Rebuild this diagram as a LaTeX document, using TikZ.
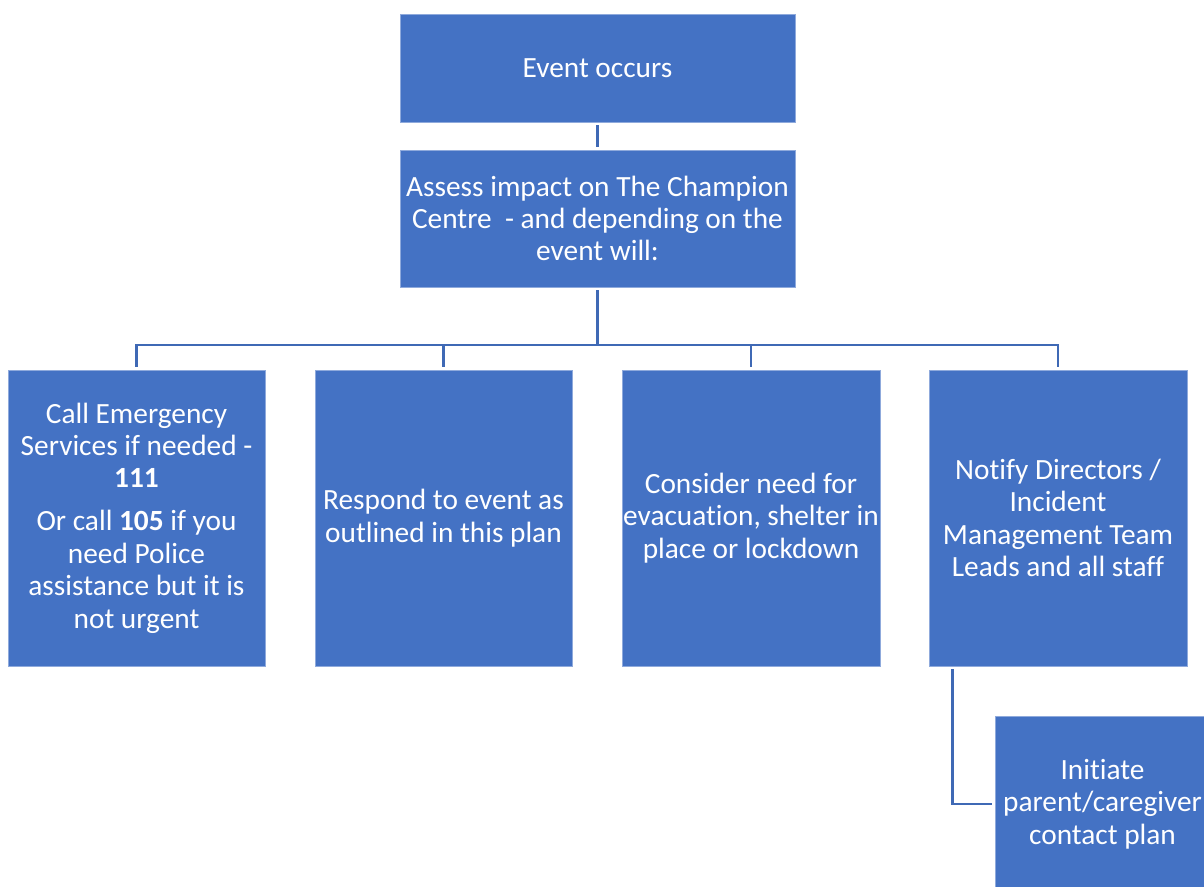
\documentclass[tikz,border=0pt]{standalone}
\usepackage{fontspec}
\setmainfont{Carlito}[Ligatures={NoCommon}]
\definecolor{boxblue}{HTML}{4472C4}
\definecolor{edgeblue}{HTML}{8FAADC}
\definecolor{lineblue}{HTML}{3F69B5}
\begin{document}
\begin{tikzpicture}[x=0.75pt,y=-0.75pt,
  box/.style={draw=edgeblue,line width=0.6pt,fill=boxblue,text=white,align=center,
    inner sep=0pt,font=\fontsize{22}{24.3}\selectfont},
  conn/.style={draw=lineblue,line width=2.2pt}]
\useasboundingbox (0,0) rectangle (1204,887);
\fill[white] (0,0) rectangle (1204,887);
\node[box,minimum width=296.25pt,minimum height=81pt] (ev) at (597.5,68) {Event occurs};
\node[box,minimum width=296.25pt,minimum height=102.75pt] (as) at (597.5,218.5)
  {Assess impact on The Champion\\Centre \ - and depending on the\\event will:};
\node[box,minimum width=192.75pt,minimum height=222pt] (b1) at (136.5,518)
  {Call Emergency\\Services if needed -\\\textbf{111}\\[8pt]Or call \textbf{105} if you\\need Police\\assistance but it is\\not urgent};
\node[box,minimum width=192.75pt,minimum height=222pt] (b2) at (443.5,518)
  {Respond to event as\\outlined in this plan};
\node[box,minimum width=193.5pt,minimum height=222pt] (b3) at (751,518)
  {Consider need for\\evacuation, shelter in\\place or lockdown};
\node[box,minimum width=193.5pt,minimum height=222pt] (b4) at (1058,518)
  {Notify Directors /\\Incident\\Management Team\\Leads and all staff};
\node[box,minimum width=161.25pt,minimum height=132pt] (b5) at (1102.5,804)
  {Initiate\\parent/caregiver\\contact plan};
\coordinate (bus) at (597.5,345);
\draw[conn] ([yshift=-2.25pt]ev.south) -- ([yshift=2.25pt]as.north);
\draw[conn] ([yshift=-2.25pt]as.south) -- (bus);
\foreach \b in {b1,b2,b3,b4}
  \draw[conn] (bus) -| ([yshift=2.25pt]\b.north);
\draw[conn] ([xshift=18pt,yshift=-2.25pt]b4.south west) |- ([xshift=-2.25pt]b5.west);
\end{tikzpicture}
\end{document}
